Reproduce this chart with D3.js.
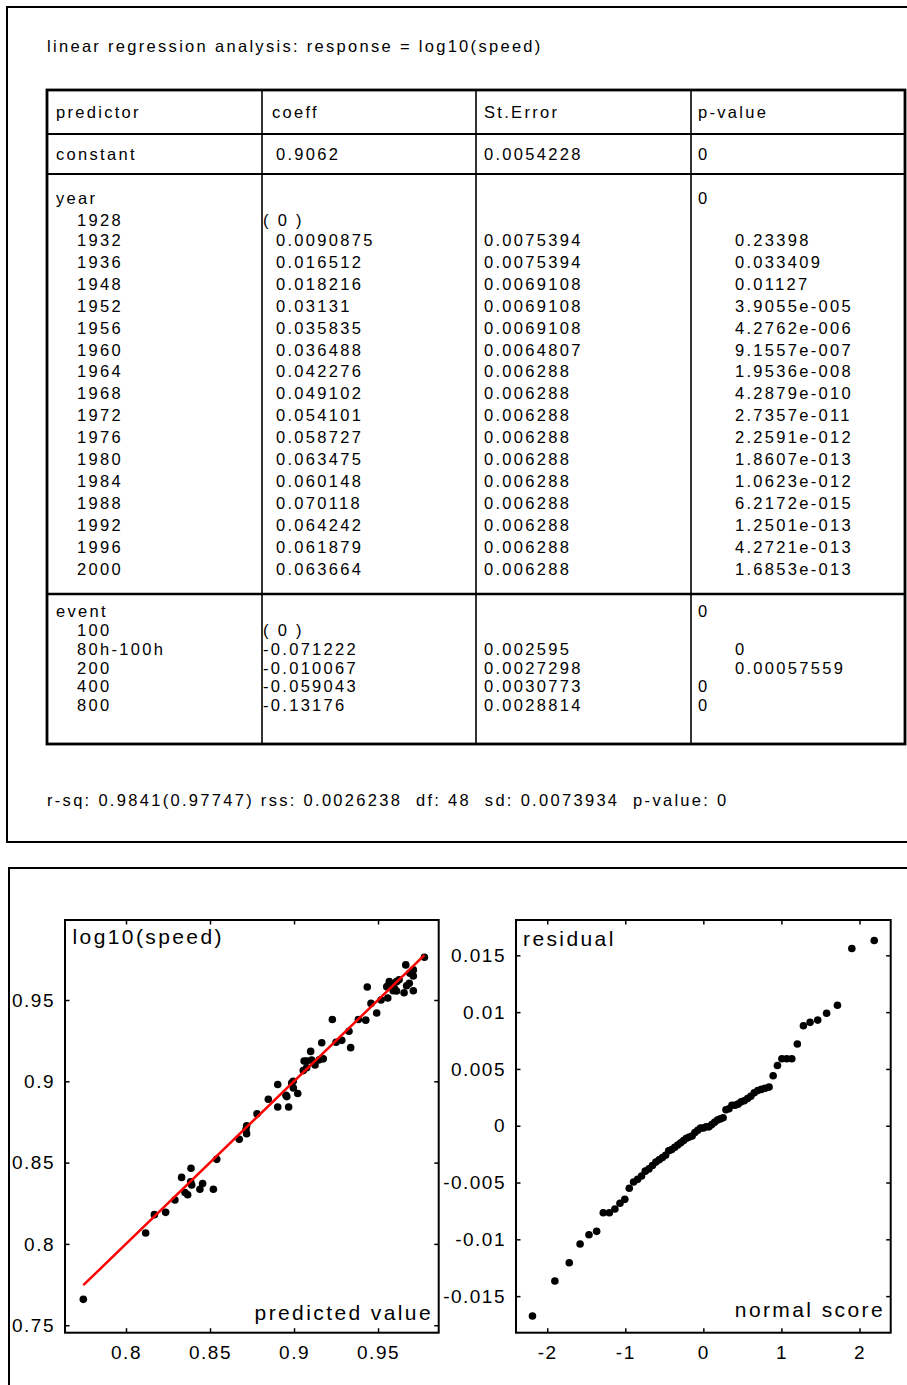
<!DOCTYPE html>
<html>
<head>
<meta charset="utf-8">
<script src="https://cdn.jsdelivr.net/npm/d3@7"></script>
<style>
  body { margin: 0; background: #fff; }
  svg { display: block; font-family: "Liberation Sans", Arial, sans-serif; }
</style>
</head>
<body>
<svg id="chart" width="907" height="1385"></svg>
<script>
// ---- table data ----
const title = "linear regression analysis: response = log10(speed)";
const headers = ["predictor", "coeff", "St.Error", "p-value"];
const constantRow = ["constant", "0.9062", "0.0054228", "0"];

const yearFactor = ["year", "", "", "0"];
const yearLevels = ["1928", "1932", "1936", "1948", "1952", "1956", "1960", "1964",
    "1968", "1972", "1976", "1980", "1984", "1988", "1992", "1996", "2000"];
const yearCoef = ["( 0 )", "0.0090875", "0.016512", "0.018216", "0.03131", "0.035835", "0.036488",
    "0.042276", "0.049102", "0.054101", "0.058727", "0.063475", "0.060148", "0.070118",
    "0.064242", "0.061879", "0.063664"];
const yearSE = ["", "0.0075394", "0.0075394", "0.0069108", "0.0069108", "0.0069108", "0.0064807",
    "0.006288", "0.006288", "0.006288", "0.006288", "0.006288", "0.006288", "0.006288",
    "0.006288", "0.006288", "0.006288"];
const yearP = ["", "0.23398", "0.033409", "0.01127", "3.9055e-005", "4.2762e-006", "9.1557e-007",
    "1.9536e-008", "4.2879e-010", "2.7357e-011", "2.2591e-012", "1.8607e-013", "1.0623e-012",
    "6.2172e-015", "1.2501e-013", "4.2721e-013", "1.6853e-013"];

const eventFactor = ["event", "", "", "0"];
const eventLevels = ["100", "80h-100h", "200", "400", "800"];
const eventCoef = ["( 0 )", "-0.071222", "-0.010067", "-0.059043", "-0.13176"];
const eventSE = ["", "0.002595", "0.0027298", "0.0030773", "0.0028814"];
const eventP = ["", "0", "0.00057559", "0", "0"];

const summary = "r-sq: 0.9841(0.97747) rss: 0.0026238  df: 48  sd: 0.0073934  p-value: 0";

// ---- plot data ----
const predicted = [0.9776, 0.9665, 0.9710, 0.9710, 0.9567, 0.9610, 0.9552, 0.9436, 0.9590, 0.9610,
    0.9655, 0.9686, 0.9670, 0.9710, 0.9558, 0.9518, 0.9458, 0.9492, 0.9383, 0.9427,
    0.9228, 0.9327, 0.9165, 0.9250, 0.9284, 0.9337, 0.9099, 0.9060, 0.9075, 0.9125,
    0.9150, 0.9174, 0.9055, 0.9075, 0.8986, 0.8903, 0.8996, 0.8952, 0.9022, 0.8957,
    0.8847, 0.8903, 0.8968, 0.8780, 0.8718, 0.8714, 0.8674, 0.8718, 0.8540, 0.8387,
    0.8331, 0.8385, 0.8391, 0.8456, 0.8440, 0.8520, 0.8351, 0.8367, 0.8291, 0.8236,
    0.8169, 0.8117, 0.7746, 0.9625, 0.9598, 0.9105, 0.8995, 0.9580, 0.9690];
const observed = [0.9763, 0.9716, 0.9685, 0.9648, 0.9613, 0.9613, 0.9582, 0.9580, 0.9557, 0.9555,
    0.9545, 0.9603, 0.9588, 0.9557, 0.9512, 0.9500, 0.9479, 0.9420, 0.9380, 0.9376,
    0.9380, 0.9308, 0.9237, 0.9240, 0.9252, 0.9207, 0.9184, 0.9125, 0.9125, 0.9101,
    0.9132, 0.9138, 0.9066, 0.9083, 0.8990, 0.8980, 0.8959, 0.8914, 0.8925, 0.8906,
    0.8890, 0.8842, 0.8842, 0.8800, 0.8726, 0.8703, 0.8644, 0.8678, 0.8520, 0.8465,
    0.8409, 0.8382, 0.8362, 0.8372, 0.8336, 0.8336, 0.8316, 0.8302, 0.8270, 0.8194,
    0.8180, 0.8067, 0.7659, 0.9625, 0.9570, 0.9130, 0.9000, 0.9600, 0.9665];

const normalScore = [-2.189, -1.902, -1.718, -1.579, -1.465, -1.367, -1.282, -1.204, -1.133, -1.068,
    -1.006, -0.949, -0.894, -0.842, -0.792, -0.744, -0.697, -0.652, -0.608, -0.566,
    -0.524, -0.484, -0.444, -0.405, -0.366, -0.328, -0.290, -0.253, -0.217, -0.180,
    -0.144, -0.108, -0.072, -0.036, 0, 0.036, 0.072, 0.108, 0.144, 0.180,
    0.217, 0.253, 0.290, 0.328, 0.366, 0.405, 0.444, 0.484, 0.524, 0.566,
    0.608, 0.652, 0.697, 0.744, 0.792, 0.842, 0.894, 0.949, 1.006, 1.068,
    1.133, 1.204, 1.282, 1.367, 1.465, 1.579, 1.718, 1.902, 2.189];
const residual = [-0.01675, -0.01367, -0.01206, -0.01041, -0.0096, -0.0093, -0.00766, -0.00766, -0.00733, -0.00683,
    -0.00648, -0.00551, -0.00496, -0.00472, -0.00443, -0.0040, -0.0038, -0.0035, -0.0032, -0.0030,
    -0.0028, -0.0026, -0.0022, -0.0021, -0.0019, -0.0017, -0.0015, -0.0013, -0.0011, -0.0010,
    -0.0009, -0.0006, -0.0004, -0.0002, -0.0002, -0.0001, -0.0001, 0.0001, 0.0003, 0.0005,
    0.0006, 0.0007, 0.0014, 0.0015, 0.0018, 0.0018, 0.0019, 0.0021, 0.0022, 0.0024,
    0.0026, 0.0029, 0.0031, 0.0032, 0.0033, 0.0034, 0.0044, 0.0053, 0.0059, 0.0059,
    0.0059, 0.0072, 0.0088, 0.0091, 0.0093, 0.0099, 0.0106, 0.0156, 0.0163];

const fitTicksX = [0.8, 0.85, 0.9, 0.95];
const fitTicksY = [0.75, 0.8, 0.85, 0.9, 0.95];
const resTicksX = [-2, -1, 0, 1, 2];
const resTicksY = [-0.015, -0.01, -0.005, 0, 0.005, 0.01, 0.015];

const svg = d3.select("#chart");
svg.append("rect").attr("width", 907).attr("height", 1385).attr("fill", "#fff");

// ---- top panel: table ----
svg.append("rect")
    .attr("x", 7).attr("y", 7).attr("width", 920).attr("height", 835)
    .attr("fill", "none").attr("stroke", "#000").attr("stroke-width", 2);

const txt = svg.append("g").attr("font-size", 16.5).attr("letter-spacing", 2.3).attr("fill", "#000");

txt.append("text").attr("x", 47).attr("y", 52).text(title);
txt.append("text").attr("x", 47).attr("y", 806).style("white-space", "pre").text(summary);

const colX = [47, 262, 476, 691, 905];
const lineY = [90, 134, 174, 594, 744];

// column / row rules
const rules = svg.append("g").attr("stroke", "#000");
colX.slice(1, -1).forEach(x => {
    rules.append("line").attr("x1", x).attr("x2", x).attr("y1", lineY[0]).attr("y2", lineY[4])
        .attr("stroke-width", 1.6);
});
lineY.slice(1, -1).forEach((y, i) => {
    rules.append("line").attr("x1", colX[0]).attr("x2", colX[4]).attr("y1", y).attr("y2", y)
        .attr("stroke-width", i == 2 ? 2.6 : 2);
});
rules.append("rect")
    .attr("x", colX[0]).attr("y", lineY[0])
    .attr("width", colX[4] - colX[0]).attr("height", lineY[4] - lineY[0])
    .attr("fill", "none").attr("stroke-width", 2.8);

function cell(col, y, s, indent) {
    if (!s) return;
    let x = colX[col] + 9;
    if (col == 0 && indent) x = colX[0] + 30;
    if (col == 1) x = colX[1] + 10;
    if (col == 1 && indent) x = (s[0] == "-" || s[0] == "(") ? colX[1] + 1 : colX[1] + 14;
    if (col == 2) x = colX[2] + 8;
    if (col == 3) x = colX[3] + (indent ? 44 : 7);
    txt.append("text").attr("x", x).attr("y", y).text(s);
}

headers.forEach((h, c) => cell(c, 118, h));
constantRow.forEach((h, c) => cell(c, 160, h, c == 1));

// year factor block
yearFactor.forEach((h, c) => cell(c, 204, h));
const yearRowY = d3.scalePoint().domain(yearLevels.slice(1)).range([246, 574.5]);
yearLevels.forEach((lev, i) => {
    const y = i == 0 ? 226 : yearRowY(lev);
    cell(0, y, lev, true);
    cell(1, y, yearCoef[i], true);
    cell(2, y, yearSE[i]);
    cell(3, y, yearP[i], true);
});

// event factor block
eventFactor.forEach((h, c) => cell(c, 617, h));
const eventPIndent = [false, true, true, false, false];
const eventRowY = d3.scalePoint().domain(eventLevels).range([636, 711]);
eventLevels.forEach((lev, i) => {
    const y = eventRowY(lev);
    cell(0, y, lev, true);
    cell(1, y, eventCoef[i], true);
    cell(2, y, eventSE[i]);
    cell(3, y, eventP[i], eventPIndent[i]);
});

// ---- bottom panel: plots ----
svg.append("rect")
    .attr("x", 9).attr("y", 868).attr("width", 920).attr("height", 540)
    .attr("fill", "none").attr("stroke", "#000").attr("stroke-width", 2);

const plotTop = 920, plotBottom = 1332.7;

function frame(x0, x1, xDom, yDom, xTicks, yTicks, fmt) {
    const x = d3.scaleLinear().domain(xDom).range([x0, x1]);
    const y = d3.scaleLinear().domain(yDom).range([plotBottom, plotTop]);
    const g = svg.append("g");

    const axes = [
        [d3.axisBottom(x).tickValues(xTicks).tickFormat(fmt).tickPadding(13), `translate(0,${plotBottom})`],
        [d3.axisTop(x).tickValues(xTicks).tickFormat(""), `translate(0,${plotTop})`],
        [d3.axisLeft(y).tickValues(yTicks).tickFormat(fmt).tickPadding(10), `translate(${x0},0)`],
        [d3.axisRight(y).tickValues(yTicks).tickFormat(""), `translate(${x1},0)`]
    ];
    axes.forEach(([ax, tr]) => {
        const a = g.append("g").attr("transform", tr)
            .call(ax.tickSizeInner(-4.5).tickSizeOuter(0));
        a.select(".domain").remove();
        a.selectAll(".tick line").attr("stroke", "#000").attr("stroke-width", 1.5);
        a.selectAll(".tick text")
            .attr("fill", "#000")
            .style("font-family", '"Liberation Sans", Arial, sans-serif')
            .style("font-size", "19px")
            .style("letter-spacing", "1.5px");
    });

    g.append("rect")
        .attr("x", x0).attr("y", plotTop)
        .attr("width", x1 - x0).attr("height", plotBottom - plotTop)
        .attr("fill", "none").attr("stroke", "#000").attr("stroke-width", 2);
    return {g, x, y};
}

const fmt = d => String(+d.toFixed(3));

// fitted vs predicted
const left = frame(65, 438.7, [0.7637, 0.9861], [0.7454, 0.9992], fitTicksX, fitTicksY, fmt);
left.g.append("g").selectAll("circle")
    .data(predicted)
    .enter()
    .append("circle")
    .attr("cx", d => left.x(d))
    .attr("cy", (d, i) => left.y(observed[i]))
    .attr("r", 3.8)
    .attr("fill", "#000");
const fitExt = d3.extent(predicted);
left.g.append("path")
    .attr("d", d3.line().x(d => left.x(d)).y(d => left.y(d))(fitExt))
    .attr("stroke", "#ff0000").attr("stroke-width", 2.5).attr("fill", "none");

// residual normal plot
const right = frame(516, 890.7, [-2.4, 2.4], [-0.01822, 0.01811], resTicksX, resTicksY, fmt);
right.g.append("g").selectAll("circle")
    .data(normalScore)
    .enter()
    .append("circle")
    .attr("cx", d => right.x(d))
    .attr("cy", (d, i) => right.y(residual[i]))
    .attr("r", 3.8)
    .attr("fill", "#000");

// plot labels
const lab = svg.append("g").attr("font-size", 21).attr("letter-spacing", 2.4).attr("fill", "#000");
lab.append("text").attr("x", 72.5).attr("y", 944).text("log10(speed)");
lab.append("text").attr("x", 433).attr("y", 1320).attr("text-anchor", "end").text("predicted value");
lab.append("text").attr("x", 523).attr("y", 946).text("residual");
lab.append("text").attr("x", 885).attr("y", 1317).attr("text-anchor", "end").text("normal score");
</script>
</body>
</html>
